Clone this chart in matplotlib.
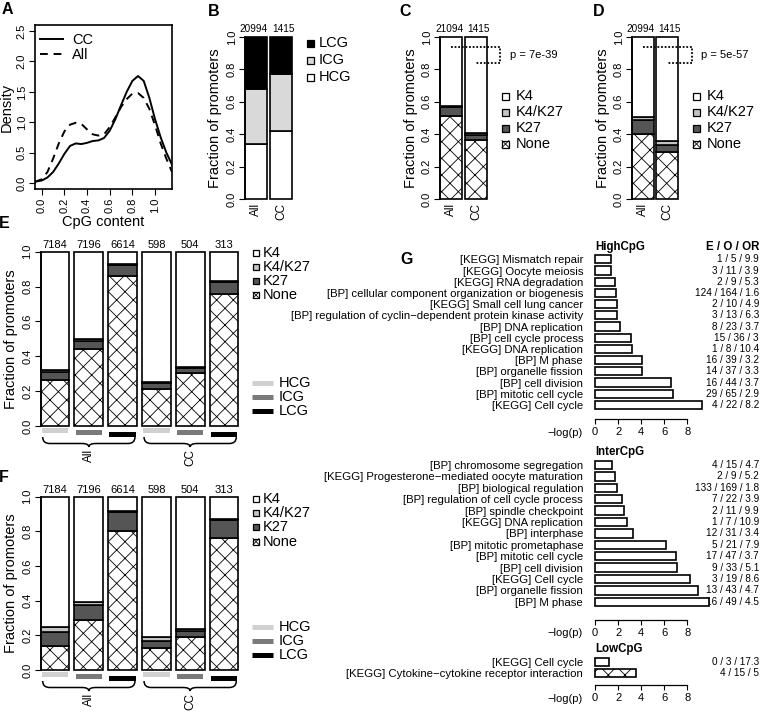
import numpy as np
import matplotlib
matplotlib.use("Agg")
import matplotlib.pyplot as plt
from matplotlib.patches import Rectangle, PathPatch
from matplotlib.path import Path
from matplotlib.lines import Line2D

plt.rcParams["font.family"] = ["Liberation Sans", "DejaVu Sans"]
plt.rcParams["hatch.linewidth"] = 0.6

W, H = 761, 712

# ---------------- data ----------------
# A: density of CpG content
cpg_x = [-0.06, 0.0, 0.05, 0.1, 0.15, 0.2, 0.25, 0.3, 0.35, 0.4, 0.45, 0.5, 0.55,
         0.6, 0.65, 0.7, 0.75, 0.8, 0.85, 0.9, 0.95, 1.0, 1.05, 1.1, 1.15]
dens_cc = [0.02, 0.04, 0.09, 0.18, 0.32, 0.48, 0.61, 0.65, 0.64, 0.66, 0.69, 0.70, 0.74,
           0.86, 1.05, 1.28, 1.5, 1.68, 1.76, 1.68, 1.4, 1.05, 0.75, 0.5, 0.3]
dens_all = [0.02, 0.06, 0.18, 0.40, 0.65, 0.85, 0.96, 0.99, 0.97, 0.88, 0.8, 0.78, 0.8,
            0.92, 1.08, 1.25, 1.38, 1.47, 1.48, 1.4, 1.22, 0.95, 0.65, 0.4, 0.18]

groups = ["All", "CC"]

# B: CpG class fractions
b_counts = ["20994", "1415"]
b_hcg = [0.34, 0.42]
b_icg = [0.34, 0.35]
b_lcg = [0.32, 0.23]

# C, D: chromatin marks
c_counts = ["21094", "1415"]
c_none = [0.515, 0.365]
c_k27 = [0.05, 0.03]
c_k4k27 = [0.01, 0.015]
c_p = "p = 7e-39"

d_counts = ["20994", "1415"]
d_none = [0.40, 0.29]
d_k27 = [0.085, 0.045]
d_k4k27 = [0.02, 0.02]
d_p = "p = 5e-57"

# E, F: marks by CpG class
ef_counts = ["7184", "7196", "6614", "598", "504", "313"]
e_none = [0.265, 0.44, 0.86, 0.21, 0.305, 0.757]
e_k27 = [0.045, 0.05, 0.065, 0.035, 0.025, 0.07]
e_k4k27 = [0.01, 0.01, 0.005, 0.008, 0.01, 0.005]

f_none = [0.14, 0.29, 0.80, 0.125, 0.19, 0.76]
f_k27 = [0.08, 0.085, 0.11, 0.04, 0.035, 0.105]
f_k4k27 = [0.03, 0.015, 0.005, 0.025, 0.01, 0.005]

# G: enrichment
high_terms = ["[KEGG] Mismatch repair", "[KEGG] Oocyte meiosis", "[KEGG] RNA degradation",
              "[BP] cellular component organization or biogenesis",
              "[KEGG] Small cell lung cancer",
              "[BP] regulation of cyclin\u2212dependent protein kinase activity",
              "[BP] DNA replication", "[BP] cell cycle process", "[KEGG] DNA replication",
              "[BP] M phase", "[BP] organelle fission", "[BP] cell division",
              "[BP] mitotic cell cycle", "[KEGG] Cell cycle"]
high_logp = [1.36, 1.38, 1.73, 1.82, 1.88, 1.93, 2.17, 3.12, 3.24, 4.1, 4.1, 6.58, 6.79, 9.3]
high_eoor = ["1 / 5 / 9.9", "3 / 11 / 3.9", "2 / 9 / 5.3", "124 / 164 / 1.6", "2 / 10 / 4.9",
             "3 / 13 / 6.3", "8 / 23 / 3.7", "15 / 36 / 3", "1 / 8 / 10.4", "16 / 39 / 3.2",
             "14 / 37 / 3.3", "16 / 44 / 3.7", "29 / 65 / 2.9", "4 / 22 / 8.2"]

inter_terms = ["[BP] chromosome segregation",
               "[KEGG] Progesterone\u2212mediated oocyte maturation",
               "[BP] biological regulation", "[BP] regulation of cell cycle process",
               "[BP] spindle checkpoint", "[KEGG] DNA replication", "[BP] interphase",
               "[BP] mitotic prometaphase", "[BP] mitotic cell cycle", "[BP] cell division",
               "[KEGG] Cell cycle", "[BP] organelle fission", "[BP] M phase"]
inter_logp = [1.5, 1.73, 1.93, 2.37, 2.51, 2.8, 3.32, 6.12, 6.99, 7.13, 8.23, 8.9, 9.9]
inter_eoor = ["4 / 15 / 4.7", "2 / 9 / 5.2", "133 / 169 / 1.8", "7 / 22 / 3.9", "2 / 11 / 9.9",
              "1 / 7 / 10.9", "12 / 31 / 3.4", "5 / 21 / 7.9", "17 / 47 / 3.7", "9 / 33 / 5.1",
              "3 / 19 / 8.6", "13 / 43 / 4.7", "16 / 49 / 4.5"]

low_terms = ["[KEGG] Cell cycle", "[KEGG] Cytokine\u2212cytokine receptor interaction"]
low_logp = [1.24, 3.55]
low_eoor = ["0 / 3 / 17.3", "4 / 15 / 5"]
low_hatched = [False, True]

mark_labels = ["K4", "K4/K27", "K27", "None"]
mark_colors = ["white", "#c4c4c4", "#555555", "white"]
mark_hatch = [None, None, None, "xx"]
cg_labels = ["HCG", "ICG", "LCG"]
cg_colors = ["#d0d0d0", "#7a7a7a", "black"]

fig = plt.figure(figsize=(W / 100, H / 100), dpi=100)


def fx(x):
    return x / W


def fy(y):
    return 1 - y / H


def px_axes(x0, y0, x1, y1):
    return fig.add_axes([fx(x0), fy(y1), (x1 - x0) / W, (y1 - y0) / H])


def px_text(x, y, s, **kw):
    return fig.text(fx(x), fy(y), s, **kw)


def square_legend(x, y, dy, labels, faces, crossed, size, fs, gap):
    for i, lab in enumerate(labels):
        yy = y + i * dy
        fig.add_artist(Rectangle((fx(x), fy(yy + size / 2)), size / W, size / H,
                                 transform=fig.transFigure, facecolor=faces[i],
                                 edgecolor="black", lw=0.9))
        if crossed[i]:
            for a, b in [((x, yy - size / 2), (x + size, yy + size / 2)),
                         ((x, yy + size / 2), (x + size, yy - size / 2))]:
                fig.add_artist(Line2D([fx(a[0]), fx(b[0])], [fy(a[1]), fy(b[1])],
                                      transform=fig.transFigure, color="black", lw=0.6))
        px_text(x + size + gap, yy, lab, va="center", ha="left", fontsize=fs)


def line_legend(x0, x1, y, dy, labels, colors, fs):
    for i, lab in enumerate(labels):
        yy = y + i * dy
        fig.add_artist(Line2D([fx(x0), fx(x1)], [fy(yy), fy(yy)], transform=fig.transFigure,
                              color=colors[i], lw=3.6, solid_capstyle="butt"))
        px_text(x1 + 6, yy, lab, va="center", ha="left", fontsize=fs)


def brace(x0, x1, ytop, ytip):
    xm = (x0 + x1) / 2
    ymid = ytop + 0.65 * (ytip - ytop)
    r = 7
    pts = [(x0, ytop), (x0, ymid), (x0 + r, ymid), (xm - r, ymid), (xm, ymid), (xm, ytip),
           (xm, ymid), (xm + r, ymid), (x1 - r, ymid), (x1, ymid), (x1, ytop)]
    codes = [Path.MOVETO, Path.CURVE3, Path.CURVE3, Path.LINETO, Path.CURVE3, Path.CURVE3,
             Path.CURVE3, Path.CURVE3, Path.LINETO, Path.CURVE3, Path.CURVE3]
    path = Path([(fx(a), fy(b)) for a, b in pts], codes)
    fig.add_artist(PathPatch(path, transform=fig.transFigure, fill=False, lw=1.1,
                             edgecolor="black"))


def frac_axis(ax):
    ax.set_ylim(0, 1)
    for s in ["top", "right", "bottom"]:
        ax.spines[s].set_visible(False)
    ax.spines["left"].set_linewidth(1.2)
    ticks = [0, 0.2, 0.4, 0.6, 0.8, 1.0]
    ax.set_yticks(ticks, ["%.1f" % t for t in ticks], rotation=90, va="center")
    ax.tick_params(axis="y", length=4, width=0.8, pad=2, labelsize=8)
    ax.tick_params(axis="x", length=0, pad=3, labelsize=8.5)
    ax.set_facecolor("none")


def mark_bars(ax, none, k27, k4k27, width):
    x = np.arange(len(none))
    none = np.array(none)
    k27 = np.array(k27)
    k4k27 = np.array(k4k27)
    k4 = 1 - none - k27 - k4k27
    bottom = np.zeros(len(x))
    for vals, fc, hc in zip([none, k27, k4k27, k4], mark_colors[::-1], mark_hatch[::-1]):
        ax.bar(x, vals, width, bottom=bottom, color=fc, edgecolor="black", hatch=hc,
               lw=1.2, clip_on=False)
        bottom = bottom + vals
    return x


crossed = [False, False, False, True]

# ---------------- A ----------------
axA = px_axes(35, 25, 172, 189)
axA.plot(cpg_x, dens_cc, color="black", lw=1.4, label="CC")
axA.plot(cpg_x, dens_all, color="black", lw=1.4, dashes=(4, 3), label="All")
axA.set_xlim(-0.06, 1.15)
axA.set_ylim(-0.1, 2.6)
xt = [0, 0.2, 0.4, 0.6, 0.8, 1.0]
axA.set_xticks(xt, ["%.1f" % t for t in xt], rotation=90)
yt = [0, 0.5, 1.0, 1.5, 2.0, 2.5]
axA.set_yticks(yt, ["%.1f" % t for t in yt], rotation=90, va="center")
axA.tick_params(length=4, width=0.8, pad=2, labelsize=8)
for s in axA.spines.values():
    s.set_linewidth(1.2)
axA.set_xlabel("CpG content", fontsize=10.5, labelpad=2)
axA.set_ylabel("Density", fontsize=10.5, labelpad=2)
axA.legend(loc="upper left", bbox_to_anchor=(fx(40), fy(33)), bbox_transform=fig.transFigure,
           frameon=False, fontsize=10.5, handlelength=1.6, handletextpad=0.6,
           labelspacing=0.05, borderpad=0, borderaxespad=0)

# ---------------- B ----------------
axB = px_axes(245, 37, 292, 199)
xb = np.arange(2)
axB.bar(xb, b_hcg, 0.88, color="white", edgecolor="black", lw=1.2, clip_on=False)
axB.bar(xb, b_icg, 0.88, bottom=b_hcg, color="#d9d9d9", edgecolor="black", lw=1.2,
        clip_on=False)
axB.bar(xb, b_lcg, 0.88, bottom=np.add(b_hcg, b_icg), color="black", edgecolor="black",
        lw=1.2, clip_on=False)
axB.set_xlim(-0.44, 1.44)
axB.set_xticks(xb, groups, rotation=90)
frac_axis(axB)
for i, c in enumerate(b_counts):
    axB.text(xb[i] + (-0.08 if i == 0 else 0.1), 1.05, c, ha="center", va="center",
             fontsize=7.2)
axB.set_ylabel("Fraction of promoters", fontsize=10.5, labelpad=3)
square_legend(307, 43, 17, ["LCG", "ICG", "HCG"], ["black", "#d9d9d9", "white"],
              [False] * 3, 7, 10.5, 5)

# ---------------- C, D ----------------
for (x0, x1, counts, none, k27, k4k27, ptxt, bx, lx) in [
        (440, 487, c_counts, c_none, c_k27, c_k4k27, c_p, 1.96, 502),
        (632, 678, d_counts, d_none, d_k27, d_k4k27, d_p, 2.0, 693)]:
    ax = px_axes(x0, 37, x1, 199)
    xs = mark_bars(ax, none, k27, k4k27, 0.88)
    ax.set_xlim(-0.44, 1.44)
    ax.set_xticks(xs, groups, rotation=90)
    frac_axis(ax)
    for i, c in enumerate(counts):
        ax.text(xs[i] + (-0.08 if i == 0 else 0.1), 1.05, c, ha="center", va="center",
                fontsize=7.2)
    ax.plot([xs[0], bx, bx, xs[1]], [0.94, 0.94, 0.84, 0.84], color="black", lw=1.3,
            ls=(0, (1, 1)), clip_on=False)
    ax.text(bx + 0.38, 0.89, ptxt, ha="left", va="center", fontsize=8)
    ax.set_ylabel("Fraction of promoters", fontsize=10.5, labelpad=3)
    square_legend(lx, 96, 16, mark_labels, mark_colors, crossed, 7, 10.5, 7)

# ---------------- E, F ----------------
for (y0, y1, none, k27, k4k27, leg1, leg2) in [
        (251.7, 426, e_none, e_k27, e_k4k27, 252.5, 382.7),
        (496.7, 670, f_none, f_k27, f_k4k27, 499, 627)]:
    ax = px_axes(40.7, y0, 238.3, y1)
    xs = mark_bars(ax, none, k27, k4k27, 0.85)
    ax.set_xlim(-0.425, 5.425)
    ax.set_xticks([])
    frac_axis(ax)
    for i, c in enumerate(ef_counts):
        ax.text(xs[i], 1.038, c, ha="center", va="center", fontsize=8)
    unit = (y1 - y0)
    for i in range(6):
        k = i % 3
        top = (2 + 2 * k) / unit
        ax.add_patch(Rectangle((xs[i] - 0.39, -top - 4.5 / unit), 0.78, 4.5 / unit,
                               facecolor=cg_colors[k], edgecolor="none", clip_on=False))
    ax.set_ylabel("Fraction of promoters", fontsize=10.5, labelpad=3)
    pxu = (238.3 - 40.7) / 5.85
    for g, (a, b) in enumerate([(0, 2), (3, 5)]):
        bx0 = 40.7 + (xs[a] - 0.425 + 0.425) * pxu + 2
        bx1 = 40.7 + (xs[b] + 0.425 + 0.425) * pxu - 2
        brace(bx0, bx1, y1 + 11, y1 + 21)
        px_text((bx0 + bx1) / 2, y1 + 23, groups[g], rotation=90, ha="center", va="top",
                fontsize=8.5)
    square_legend(253, leg1, 14.2, mark_labels, mark_colors, crossed, 6, 10.5, 3.5)
    line_legend(252, 273, leg2, 14, cg_labels, cg_colors, 10.5)

# ---------------- G ----------------
unit_px = 11.54
x_left = 595
x_right_txt = 759


def go_panel(first, sp, axis_y, terms, logp, eoor, title, hatched=None):
    n = len(terms)
    ax = px_axes(x_left, first - 0.6 * sp, W, axis_y)
    ax.set_xlim(0, (W - x_left) / unit_px)
    ax.set_ylim((axis_y - first) / sp, -0.6)
    y = np.arange(n)
    hatches = ["xx" if (hatched and hatched[i]) else None for i in range(n)]
    bars = ax.barh(y, logp, 0.72, color="white", edgecolor="black", lw=1.2, zorder=2,
                   clip_on=False)
    for b, h in zip(bars, hatches):
        b.set_hatch(h)
    ax.set_yticks(y, terms)
    ax.tick_params(axis="y", length=0, pad=8.5, labelsize=8.2)
    ax.set_xticks([0, 2, 4, 6, 8])
    ax.tick_params(axis="x", length=3.5, width=0.8, pad=2, labelsize=8)
    for s in ["top", "right", "left"]:
        ax.spines[s].set_visible(False)
    ax.spines["bottom"].set_bounds(0, 8)
    ax.spines["bottom"].set_linewidth(0.9)
    ax.set_facecolor("none")
    for i in range(n):
        ax.text((x_right_txt - x_left) / unit_px, i, eoor[i], ha="right", va="center",
                fontsize=7.2, zorder=1, clip_on=False)
    px_text(x_left, first - 12.8, title, ha="left", va="center", fontsize=8.3,
            fontweight="bold")
    px_text(583, axis_y + 13.5, "\u2212log(p)", ha="right", va="center", fontsize=8)
    return ax


go_panel(259.3, 11.2, 419, high_terms, high_logp, high_eoor, "HighCpG")
go_panel(465, 11.4, 620, inter_terms, inter_logp, inter_eoor, "InterCpG")
go_panel(661.7, 11.6, 685, low_terms, low_logp, low_eoor, "LowCpG", low_hatched)
px_text(x_right_txt, 247, "E / O / OR", ha="right", va="center", fontsize=8.3,
        fontweight="bold")

# panel letters
for lab, x, y in [("A", 7, 10), ("B", 214, 11), ("C", 405, 11), ("D", 599, 11),
                  ("E", 4, 223), ("F", 4, 477), ("G", 407, 259)]:
    px_text(x, y, lab, ha="center", va="center", fontsize=11.5, fontweight="bold")

fig.savefig("out.png", dpi=100)
